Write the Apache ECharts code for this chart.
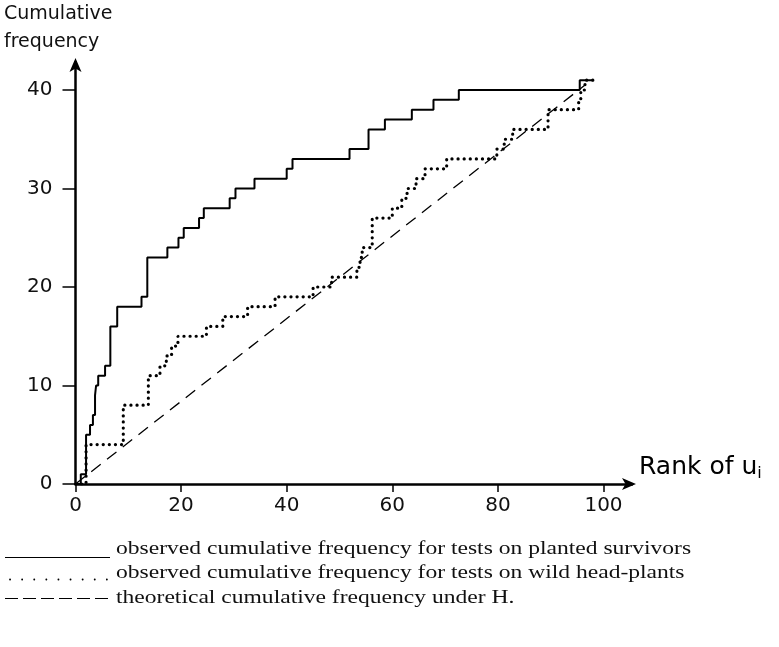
<!DOCTYPE html>
<html>
<head>
<meta charset="utf-8">
<script src="https://cdn.jsdelivr.net/npm/echarts@6/dist/echarts.min.js"></script>
<style>
  html, body { margin: 0; padding: 0; background: #fff; }
  #chart { width: 779px; height: 647px; }
</style>
</head>
<body>
<div id="chart"></div>
<script>
// ---- data ----
const ranksPlanted = [0, 1, 2, 2.75, 3.3, 3.7, 3.9, 4.3, 5.6, 6.6, 7.9, 12.5, 13.6, 17.4, 19.5, 20.5, 23.4, 24.3, 29.2, 30.3, 33.9, 40, 41.1, 51.9, 55.5, 58.6, 63.7, 67.8, 72.6, 95.5, 98];
const freqPlanted  = [0, 1, 5, 6, 7, 9, 10, 11, 12, 16, 18, 19, 23, 24, 25, 26, 27, 28, 29, 30, 31, 32, 33, 34, 36, 37, 38, 39, 40, 41, 41];

const ranksWild = [0, 2, 9.05, 13.8, 16, 17.2, 18.2, 19.4, 24.8, 27.9, 32.6, 37.8, 45, 48.5, 53.3, 53.9, 54.3, 56.2, 60, 61.8, 62.8, 64.5, 66.2, 70.3, 79.8, 81.2, 82.8, 89.5, 95.3, 95.7, 96.5, 98];
const freqWild  = [0, 4, 8, 11, 12, 13, 14, 15, 16, 17, 18, 19, 20, 21, 22, 23, 24, 27, 28, 29, 30, 31, 32, 33, 34, 35, 36, 38, 39, 40, 41, 41];

const ranksTheory = [0, 96.5];
const freqTheory  = [0, 40.5];

const xTicks = [0, 20, 40, 60, 80, 100];
const yTicks = [0, 10, 20, 30, 40];

const legendLabels = [
  'observed cumulative frequency for tests on planted survivors',
  'observed cumulative frequency for tests on wild head-plants',
  'theoretical cumulative frequency under H.'
];
const yTitle = ['Cumulative', 'frequency'];
const xTitle = 'Rank of u';

const zip = (a, b) => a.map((v, i) => [v, b[i]]);

const tickFont = { fontFamily: 'DejaVu Sans', fontSize: 20, color: '#111' };
const serif = 'Liberation Serif';

const chart = echarts.init(document.getElementById('chart'), null, { renderer: 'canvas' });
chart.setOption({
  animation: false,
  backgroundColor: '#fff',
  grid: { left: 75.5, top: 62, right: 147, bottom: 163, containLabel: false },
  xAxis: {
    type: 'value', min: 0, max: 105.4, interval: 20,
    axisLine: { show: true, symbol: ['none', 'arrow'], symbolSize: [9, 14], symbolOffset: [0, 4],
      lineStyle: { color: '#000', width: 2.5 } },
    axisTick: { show: true, length: 8, inside: false, customValues: xTicks,
      lineStyle: { color: '#000', width: 1.5 } },
    axisLabel: { show: true, margin: 12, customValues: xTicks, ...tickFont },
    splitLine: { show: false }
  },
  yAxis: {
    type: 'value', min: 0, max: 42.84, interval: 10,
    axisLine: { show: true, symbol: ['none', 'arrow'], symbolSize: [9, 14], symbolOffset: [0, 4],
      lineStyle: { color: '#000', width: 2.5 } },
    axisTick: { show: true, length: 13, inside: false, customValues: yTicks,
      lineStyle: { color: '#000', width: 1.5 } },
    axisLabel: { show: true, margin: 23, customValues: yTicks, ...tickFont },
    splitLine: { show: false }
  },
  series: [
    {
      name: legendLabels[0], type: 'line', step: 'end', showSymbol: false,
      data: zip(ranksPlanted, freqPlanted),
      lineStyle: { color: '#000', width: 2 }, z: 3
    },
    {
      name: legendLabels[1], type: 'line', step: 'end', showSymbol: false,
      data: zip(ranksWild, freqWild),
      lineStyle: { color: '#000', width: 3.2, type: [0.1, 6], cap: 'round' }, z: 2
    },
    {
      name: legendLabels[2], type: 'line', showSymbol: false,
      data: zip(ranksTheory, freqTheory),
      lineStyle: { color: '#000', width: 1.3, type: [12, 8] }, z: 1
    }
  ],
  graphic: [
    { type: 'text', left: 4, top: 5, style: { text: yTitle[0], font: '19px "DejaVu Sans"', fill: '#111' } },
    { type: 'text', left: 4, top: 33, style: { text: yTitle[1], font: '19px "DejaVu Sans"', fill: '#111' } },
    { type: 'text', x: 639, y: 467, style: {
        text: '{a|' + xTitle + '}{b|i}',
        verticalAlign: 'middle',
        rich: {
          a: { fontFamily: 'DejaVu Sans', fontSize: 25, color: '#111' },
          b: { fontFamily: 'DejaVu Sans', fontSize: 16, color: '#111', padding: [14, 0, 0, 0] }
        }
      } },
    // legend samples
    { type: 'line', shape: { x1: 5, y1: 557.5, x2: 110, y2: 557.5 }, style: { stroke: '#000', lineWidth: 1.2 } },
    { type: 'line', shape: { x1: 10, y1: 579.5, x2: 110, y2: 579.5 }, style: { stroke: '#000', lineWidth: 1.8, lineDash: [0.1, 12], lineCap: 'round' } },
    { type: 'line', shape: { x1: 5, y1: 598.5, x2: 113, y2: 598.5 }, style: { stroke: '#000', lineWidth: 1.2, lineDash: [13, 5] } },
    { type: 'text', x: 116, y: 549, scaleX: 1.24, style: { text: legendLabels[0], font: '19px "' + serif + '"', fill: '#111', verticalAlign: 'middle' } },
    { type: 'text', x: 116, y: 573, scaleX: 1.24, style: { text: legendLabels[1], font: '19px "' + serif + '"', fill: '#111', verticalAlign: 'middle' } },
    { type: 'text', x: 116, y: 598, scaleX: 1.24, style: { text: legendLabels[2], font: '19px "' + serif + '"', fill: '#111', verticalAlign: 'middle' } }
  ]
});
</script>
</body>
</html>
